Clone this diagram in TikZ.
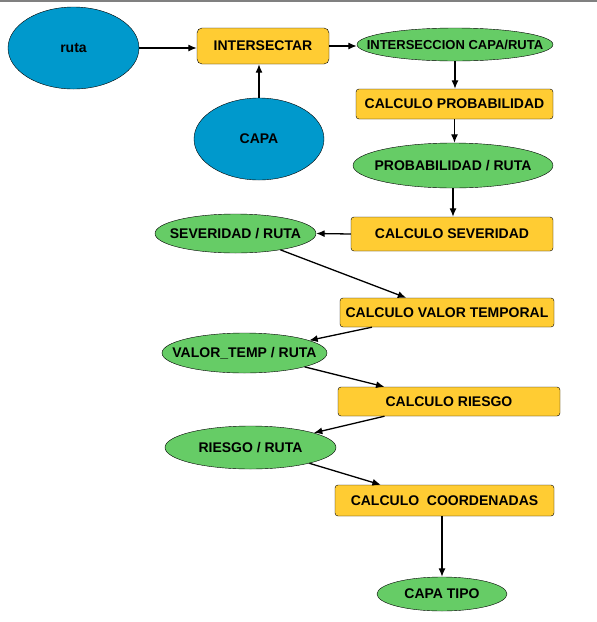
\documentclass[tikz,border=0pt]{standalone}
\usepackage{fontspec}
\setmainfont{Liberation Sans}
\usetikzlibrary{shapes.geometric,arrows.meta,calc}

\definecolor{capaazul}{RGB}{0,153,204}
\definecolor{procamarillo}{RGB}{255,204,51}
\definecolor{salidaverde}{RGB}{102,204,102}
\newcommand{\etq}[1]{\makebox[0pt]{#1}}

\begin{document}
\begin{tikzpicture}[x=1pt, y=-1pt,
  font=\fontsize{14}{16}\selectfont\bfseries,
  entrada/.style={ellipse, draw, fill=capaazul, inner sep=0pt},
  proceso/.style={rectangle, draw, fill=procamarillo, rounded corners=3pt, inner sep=0pt},
  salida/.style={ellipse, draw, fill=salidaverde, inner sep=0pt},
  flecha/.style={-{Latex[length=8.5pt,width=7pt]}, line width=1.3pt}]
\useasboundingbox (0,0) rectangle (597,622);
\draw[gray, line width=1.5pt] (0,1) -- (597,1);

\node[entrada, minimum width=131, minimum height=82] (ruta) at (73.5,48) {\etq{ruta}};
\node[entrada, minimum width=130, minimum height=82] (capa) at (259,139) {\etq{CAPA}};
\node[proceso, rounded corners=5pt, minimum width=132, minimum height=36] (inter) at (263,46) {INTERSECTAR};
\node[salida, minimum width=196, minimum height=33, font=\fontsize{13}{15}\selectfont\bfseries] (isec) at (455,44.5) {\etq{INTERSECCION CAPA/RUTA}};
\node[proceso, minimum width=197, minimum height=30] (cprob) at (454.5,104) {CALCULO PROBABILIDAD};
\node[salida, minimum width=200, minimum height=45] (prob) at (453,165.5) {\etq{PROBABILIDAD / RUTA}};
\node[proceso, minimum width=202, minimum height=34] (csev) at (452,234) {CALCULO SEVERIDAD};
\node[salida, minimum width=161, minimum height=39] (sev) at (235.5,233.5) {\etq{SEVERIDAD / RUTA}};
\node[proceso, minimum width=214, minimum height=29] (cvt) at (447,312.5) {CALCULO VALOR TEMPORAL};
\node[salida, minimum width=165, minimum height=40] (vt) at (244.5,353) {\etq{VALOR\_TEMP / RUTA}};
\node[proceso, minimum width=222, minimum height=29] (crie) at (449,401.5) {CALCULO RIESGO};
\node[salida, minimum width=171, minimum height=43] (rr) at (250.5,447.5) {\etq{RIESGO / RUTA}};
\node[proceso, minimum width=219, minimum height=31] (ccoord) at (444.5,500.5) {CALCULO~~COORDENADAS};
\node[salida, minimum width=130, minimum height=34] (tipo) at (442,594) {\etq{CAPA TIPO}};

\draw[flecha] (ruta.east) -- (ruta.east -| inter.west);
\draw[flecha] (capa.north) -- (capa.north |- inter.south);
\draw[flecha] (inter.east) -- (inter.east -| isec.west);
\draw[flecha] (isec.south) -- (isec.south |- cprob.north);
\draw[flecha] (cprob.south) -- (cprob.south |- prob.north);
\draw[flecha] (prob.south) -- (prob.south |- csev.north);
\draw[flecha] (csev.west) -- (sev.east);
\draw[flecha] (sev.-20) -- ($(cvt.north west)!0.31!(cvt.north east)$);
\draw[flecha] ($(cvt.south west)!0.15!(cvt.south east)$) -- (vt.11);
\draw[flecha] (vt.-13) -- ($(crie.north west)!0.21!(crie.north east)$);
\draw[flecha] ($(crie.south west)!0.21!(crie.south east)$) -- (rr.13);
\draw[flecha] (rr.-15) -- ($(ccoord.north west)!0.21!(ccoord.north east)$);
\draw[flecha] (tipo.north |- ccoord.south) -- (tipo.north);

\end{tikzpicture}
\end{document}
